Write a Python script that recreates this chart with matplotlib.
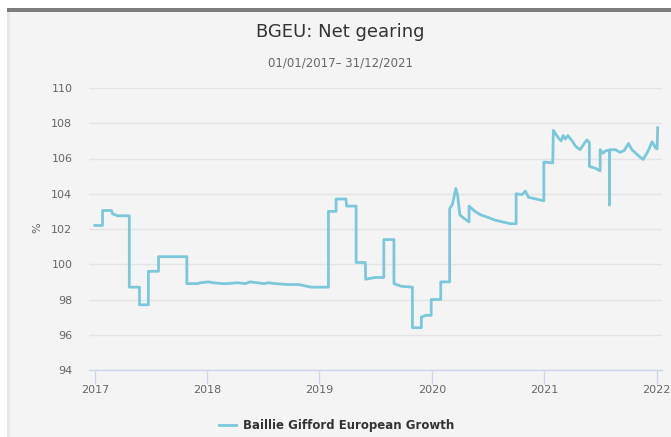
import matplotlib
matplotlib.use("Agg")
import matplotlib.pyplot as plt
import matplotlib.dates as mdates
from matplotlib.patches import Rectangle
import pandas as pd

title = "BGEU: Net gearing"
subtitle = "01/01/2017\u2013 31/12/2021"
series_name = "Baillie Gifford European Growth"

dates = [
    "2017-01-01", "2017-01-26", "2017-01-26", "2017-02-24", "2017-02-28", "2017-03-10", "2017-03-14",
    "2017-04-20", "2017-04-23", "2017-04-23", "2017-05-26", "2017-05-26", "2017-06-24", "2017-06-24",
    "2017-07-27", "2017-07-27", "2017-10-27", "2017-10-27", "2017-12-01", "2017-12-10", "2018-01-05",
    "2018-01-20", "2018-02-20", "2018-03-05", "2018-04-10", "2018-05-05", "2018-05-20", "2018-07-05",
    "2018-07-20", "2018-08-10", "2018-09-20", "2018-10-25", "2018-12-05", "2019-01-30", "2019-01-30",
    "2019-02-24", "2019-02-24", "2019-03-28", "2019-03-30", "2019-04-30", "2019-04-30", "2019-05-30",
    "2019-05-31", "2019-07-01", "2019-07-29", "2019-07-29", "2019-08-31", "2019-08-31", "2019-09-24",
    "2019-10-30", "2019-10-30", "2019-11-28", "2019-11-28", "2019-12-12", "2019-12-30", "2019-12-30",
    "2020-01-30", "2020-01-30", "2020-02-28", "2020-02-28", "2020-03-08", "2020-03-19", "2020-03-25",
    "2020-04-01", "2020-04-15", "2020-05-01", "2020-05-01", "2020-05-20", "2020-06-08", "2020-06-25",
    "2020-07-25", "2020-09-12", "2020-10-01", "2020-10-01", "2020-10-20", "2020-10-31", "2020-11-10",
    "2020-12-05", "2020-12-30", "2020-12-30", "2021-01-28", "2021-01-30", "2021-02-14", "2021-02-24",
    "2021-03-03", "2021-03-10", "2021-03-18", "2021-04-01", "2021-04-12", "2021-04-27", "2021-05-12",
    "2021-05-19", "2021-05-27", "2021-05-27", "2021-06-15", "2021-07-01", "2021-07-01", "2021-07-10",
    "2021-07-20", "2021-07-31", "2021-07-31", "2021-08-01", "2021-08-20", "2021-09-03", "2021-09-17",
    "2021-10-01", "2021-10-12", "2021-10-31", "2021-11-10", "2021-11-18", "2021-12-03", "2021-12-17",
    "2021-12-28", "2022-01-02", "2022-01-04",
]
values = [
    102.2, 102.2, 103.05, 103.05, 102.85, 102.8, 102.75,
    102.75, 102.75, 98.7, 98.7, 97.7, 97.7, 99.6,
    99.6, 100.43, 100.43, 98.9, 98.9, 98.95, 99.0,
    98.95, 98.9, 98.9, 98.95, 98.9, 99.0, 98.9,
    98.95, 98.9, 98.85, 98.85, 98.7, 98.7, 103.0,
    103.0, 103.7, 103.7, 103.3, 103.3, 100.1, 100.1,
    99.15, 99.25, 99.25, 101.4, 101.4, 98.9, 98.75,
    98.7, 96.4, 96.4, 97.0, 97.1, 97.1, 98.0,
    98.0, 99.0, 99.0, 103.15, 103.4, 104.3, 103.9,
    102.8, 102.6, 102.4, 103.3, 103.0, 102.8, 102.7,
    102.5, 102.3, 102.3, 104.0, 103.95, 104.15, 103.8,
    103.7, 103.6, 105.8, 105.75, 107.6, 107.2, 107.0,
    107.3, 107.1, 107.3, 107.0, 106.7, 106.5, 106.9,
    107.05, 106.9, 105.55, 105.45, 105.3, 106.5, 106.3,
    106.45, 106.45, 103.35, 106.5, 106.5, 106.35, 106.45,
    106.85, 106.5, 106.2, 106.05, 105.95, 106.4, 106.95,
    106.6, 106.55, 107.75,
]
y_ticks = [94, 96, 98, 100, 102, 104, 106, 108, 110]
x_years = [2017, 2018, 2019, 2020, 2021, 2022]

W, H = 671, 437
fig = plt.figure(figsize=(W / 100, H / 100), dpi=100)
fig.patch.set_facecolor("white")
# panel background
fig.patches.append(Rectangle((7 / W, 0), 1 - 7 / W, 1 - 8 / H, transform=fig.transFigure,
                             facecolor="#f4f4f4", edgecolor="none", zorder=-10))
fig.patches.append(Rectangle((7 / W, 0), 3 / W, 1 - 8 / H, transform=fig.transFigure,
                             facecolor="#e6e6e6", edgecolor="none", zorder=-10))
fig.patches.append(Rectangle((7 / W, 1 - 12 / H), 1 - 7 / W, 4 / H, transform=fig.transFigure,
                             facecolor="#7d7d7d", edgecolor="none", zorder=-10))

left, right, top, bottom = 89, 662, 88, 370
ax = fig.add_axes([left / W, 1 - bottom / H, (right - left) / W, (bottom - top) / H])
ax.set_facecolor("none")
ax.set_zorder(5)

x = pd.to_datetime(dates)
ax.plot(x, values, color="#7cc8db", lw=2, solid_joinstyle="round", zorder=3, label=series_name)

ax.set_ylim(94, 110)
ax.set_yticks(y_ticks)
ax.set_xlim(pd.Timestamp("2016-12-13"), pd.Timestamp("2022-01-18"))
ax.set_xticks([pd.Timestamp(f"{y}-01-01") for y in x_years])
ax.set_xticklabels([str(y) for y in x_years])

ax.grid(axis="y", color="#e3e3e3", lw=1)
ax.set_axisbelow(True)
for s in ["top", "right", "left"]:
    ax.spines[s].set_visible(False)
ax.spines["bottom"].set_color("#ccd6eb")
ax.spines["bottom"].set_linewidth(1)
ax.tick_params(axis="y", length=0, pad=12, labelsize=8, labelcolor="#666666")
ax.tick_params(axis="x", length=10, width=1, color="#ccd6eb", pad=1, labelsize=8, labelcolor="#666666")

fig.text(37 / W, 1 - 228 / H, "%", rotation=90, ha="center", va="center", fontsize=8, color="#666666")
fig.text(340 / W, 1 - 32 / H, title, ha="center", va="center", fontsize=13, color="#333333")
fig.text(340 / W, 1 - 63 / H, subtitle, ha="center", va="center", fontsize=8.5, color="#666666")

# legend
lx, ly = 219, 425
fig.add_artist(plt.Line2D([lx / W, (lx + 17) / W], [1 - ly / H, 1 - ly / H], transform=fig.transFigure,
                          color="#7cc8db", lw=2))
fig.text((lx + 24) / W, 1 - ly / H, series_name, ha="left", va="center", fontsize=8.5,
         fontweight="bold", color="#333333")

fig.savefig("out.png", dpi=100, facecolor=fig.get_facecolor())
